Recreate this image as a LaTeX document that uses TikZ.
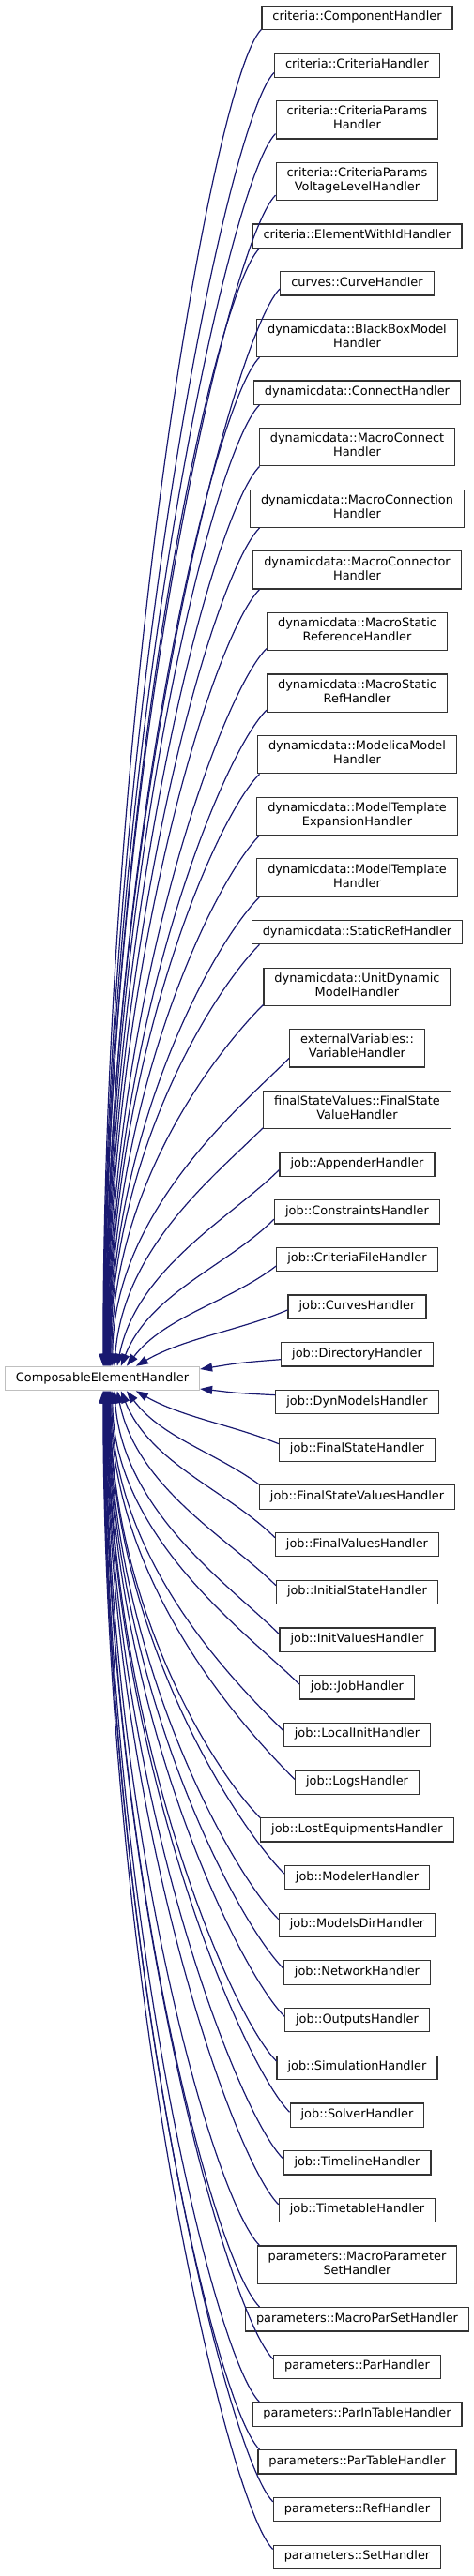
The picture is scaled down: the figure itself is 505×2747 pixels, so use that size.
\documentclass[tikz,border=0pt]{standalone}
\usepackage{fontspec}
\usetikzlibrary{arrows.meta,calc}
\newfontfamily\dvs{DejaVu Sans}
\definecolor{edgeblue}{HTML}{191970}
\definecolor{boxline}{HTML}{333333}
\definecolor{baseline}{HTML}{BFBFBF}
\tikzset{
  cls/.style={draw=boxline, line width=1.2pt, fill=white, inner xsep=11.5pt, inner ysep=0pt,
    minimum height=25.3pt, align=center, font=\dvs\fontsize{12.9}{15}\selectfont,
    execute at begin node=\strut},
  cls2/.style={cls, minimum height=40.2pt},
  basecls/.style={cls, draw=baseline},
  edge/.style={draw=edgeblue, line width=1.2pt, -{Triangle[length=13pt,width=9pt]}}
}
% upper edge: from child (above base) to point on base
\newcommand\uedge[2]{%
 \draw[edge] let \p1=(#1.south west), \p2=(#2),
   \n1={max(\x1,276.5pt)},
   \n2={\y1+max(0pt,min(10pt,0.35*(\x1-276.5pt)))},
   \n3={\n2-\y2},
   \n4={\n1-\x2},
   \n5={min(50pt,0.36*\n3)},
   \n6={0.4*\n4*max(0,1-\n3/300pt)},
   \n7={0.5*\n3}
 in (\n1,\n2) .. controls (\n1-50pt,\n2-\n5) and (\x2+\n6,\y2+\n7) .. (\p2);}
% lower edge
\newcommand\ledge[2]{%
 \draw[edge] let \p1=(#1.north west), \p2=(#2),
   \n1={max(\x1,276.5pt)},
   \n2={\y1-max(0pt,min(10pt,0.35*(\x1-276.5pt)))},
   \n3={\y2-\n2},
   \n4={\n1-\x2},
   \n5={min(50pt,0.36*\n3)},
   \n6={0.4*\n4*max(0,1-\n3/300pt)},
   \n7={0.5*\n3}
 in (\n1,\n2) .. controls (\n1-50pt,\n2+\n5) and (\x2+\n6,\y2-\n7) .. (\p2);}
\begin{document}
\begin{tikzpicture}[x=1pt,y=1pt]
\useasboundingbox (0,0) rectangle (505,-2747);
\node[basecls] (base) at (109,-1470) {ComposableElementHandler};
\node[cls]  (n1)  at (380.5,-18.95)  {criteria::ComponentHandler};
\node[cls]  (n2)  at (380.5,-69.65)  {criteria::CriteriaHandler};
\node[cls2] (n3)  at (380.5,-127.8)  {criteria::CriteriaParams\\\strut Handler};
\node[cls2] (n4)  at (380.5,-193.4)  {criteria::CriteriaParams\\\strut VoltageLevelHandler};
\node[cls]  (n5)  at (380.5,-251.55) {criteria::ElementWithIdHandler};
\node[cls]  (n6)  at (380.5,-302.25) {curves::CurveHandler};
\node[cls2] (n7)  at (380.5,-360.4)  {dynamicdata::BlackBoxModel\\\strut Handler};
\node[cls]  (n8)  at (380.5,-418.55) {dynamicdata::ConnectHandler};
\node[cls2] (n9)  at (380.5,-476.7)  {dynamicdata::MacroConnect\\\strut Handler};
\node[cls2] (n10) at (380.5,-542.3)  {dynamicdata::MacroConnection\\\strut Handler};
\node[cls2] (n11) at (380.5,-607.9)  {dynamicdata::MacroConnector\\\strut Handler};
\node[cls2] (n12) at (380.5,-673.5)  {dynamicdata::MacroStatic\\\strut ReferenceHandler};
\node[cls2] (n13) at (380.5,-739.1)  {dynamicdata::MacroStatic\\\strut RefHandler};
\node[cls2] (n14) at (380.5,-804.7)  {dynamicdata::ModelicaModel\\\strut Handler};
\node[cls2] (n15) at (380.5,-870.3)  {dynamicdata::ModelTemplate\\\strut ExpansionHandler};
\node[cls2] (n16) at (380.5,-935.9)  {dynamicdata::ModelTemplate\\\strut Handler};
\node[cls]  (n17) at (380.5,-994.05) {dynamicdata::StaticRefHandler};
\node[cls2] (n18) at (380.5,-1052.2) {dynamicdata::UnitDynamic\\\strut ModelHandler};
\node[cls2] (n19) at (380.5,-1117.8) {externalVariables::\\\strut VariableHandler};
\node[cls2] (n20) at (380.5,-1183.4) {finalStateValues::FinalState\\\strut ValueHandler};
\node[cls]  (n21) at (380.5,-1241.55) {job::AppenderHandler};
\node[cls]  (n22) at (380.5,-1292.25) {job::ConstraintsHandler};
\node[cls]  (n23) at (380.5,-1342.95) {job::CriteriaFileHandler};
\node[cls]  (n24) at (380.5,-1393.65) {job::CurvesHandler};
\node[cls]  (n25) at (380.5,-1444.35) {job::DirectoryHandler};
\node[cls]  (n26) at (380.5,-1495.05) {job::DynModelsHandler};
\node[cls]  (n27) at (380.5,-1545.75) {job::FinalStateHandler};
\node[cls]  (n28) at (380.5,-1596.45) {job::FinalStateValuesHandler};
\node[cls]  (n29) at (380.5,-1647.15) {job::FinalValuesHandler};
\node[cls]  (n30) at (380.5,-1697.85) {job::InitialStateHandler};
\node[cls]  (n31) at (380.5,-1748.55) {job::InitValuesHandler};
\node[cls]  (n32) at (380.5,-1799.25) {job::JobHandler};
\node[cls]  (n33) at (380.5,-1849.95) {job::LocalInitHandler};
\node[cls]  (n34) at (380.5,-1900.65) {job::LogsHandler};
\node[cls]  (n35) at (380.5,-1951.35) {job::LostEquipmentsHandler};
\node[cls]  (n36) at (380.5,-2002.05) {job::ModelerHandler};
\node[cls]  (n37) at (380.5,-2052.75) {job::ModelsDirHandler};
\node[cls]  (n38) at (380.5,-2103.45) {job::NetworkHandler};
\node[cls]  (n39) at (380.5,-2154.15) {job::OutputsHandler};
\node[cls]  (n40) at (380.5,-2204.85) {job::SimulationHandler};
\node[cls]  (n41) at (380.5,-2255.55) {job::SolverHandler};
\node[cls]  (n42) at (380.5,-2306.25) {job::TimelineHandler};
\node[cls]  (n43) at (380.5,-2356.95) {job::TimetableHandler};
\node[cls2] (n44) at (380.5,-2415.1) {parameters::MacroParameter\\\strut SetHandler};
\node[cls]  (n45) at (380.5,-2473.25) {parameters::MacroParSetHandler};
\node[cls]  (n46) at (380.5,-2523.95) {parameters::ParHandler};
\node[cls]  (n47) at (380.5,-2574.65) {parameters::ParInTableHandler};
\node[cls]  (n48) at (380.5,-2625.35) {parameters::ParTableHandler};
\node[cls]  (n49) at (380.5,-2676.05) {parameters::RefHandler};
\node[cls]  (n50) at (380.5,-2726.75) {parameters::SetHandler};
% edges from upper children
\foreach \i/\o in {1/105,2/105.5,3/106,4/106.5,5/107,6/107.5,7/108,8/108.5,9/109,10/109.5,
  11/110,12/110.5,13/111,14/111.5,15/112,16/112.5,17/113,18/114,19/115,20/117,21/120,22/124,23/130,24/140}
  {\uedge{n\i}{[xshift=\o pt]base.north west}}
\uedge{n25}{[yshift=10pt]base.east}
\ledge{n26}{[yshift=-11pt]base.east}
\foreach \i/\o in {50/105,49/105.5,48/106,47/106.5,46/107,45/107.5,44/108,43/108.5,42/109,41/109.5,
  40/110,39/110.5,38/111,37/111.5,36/112,35/112.5,34/113,33/114,32/115,31/117,30/120,29/124,28/130,27/140}
  {\ledge{n\i}{[xshift=\o pt]base.south west}}
\end{tikzpicture}
\end{document}
